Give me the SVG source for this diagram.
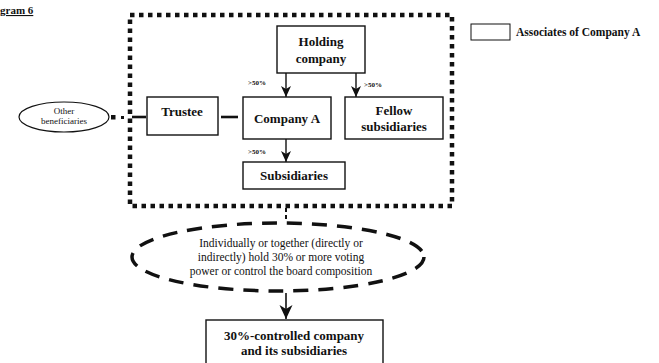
<svg xmlns="http://www.w3.org/2000/svg" width="659" height="363" viewBox="0 0 659 363">
  <defs>
    <style>
      .box{fill:#fff;stroke:#111;stroke-width:1.4}
      .lbl{font-family:"Liberation Serif","Times New Roman",serif;font-weight:bold;font-size:13px;fill:#111;text-anchor:middle}
      .pct{font-family:"Liberation Serif","Times New Roman",serif;font-weight:bold;font-size:7px;fill:#111}
      .note{font-family:"Liberation Serif","Times New Roman",serif;font-size:11.5px;fill:#111;text-anchor:middle}
      .small{font-family:"Liberation Serif","Times New Roman",serif;font-size:9px;fill:#111;text-anchor:middle}
      .ln{stroke:#111;stroke-width:1.4;fill:none}
      .thick{stroke:#111;stroke-width:2.6;fill:none}
    </style>
    <marker id="ah" markerUnits="userSpaceOnUse" markerWidth="12" markerHeight="12" refX="11" refY="5" orient="auto">
      <path d="M0,0 L11,5 L0,10 L3,5 Z" fill="#111"/>
    </marker>
    <marker id="ahBig" markerUnits="userSpaceOnUse" markerWidth="16" markerHeight="16" refX="14" refY="6.5" orient="auto">
      <path d="M0,0 L14,6.5 L0,13 L4,6.5 Z" fill="#111"/>
    </marker>
  </defs>

  <!-- heading fragment -->
  <text x="0" y="14" font-family="Liberation Serif, serif" font-weight="bold" font-size="11" fill="#111" text-decoration="underline">gram 6</text>

  <!-- group boundary (associates of Company A) -->
  <rect x="130" y="15" width="322" height="191" fill="none" stroke="#111" stroke-width="4.5" stroke-dasharray="4.5 4.5"/>

  <!-- connectors -->
  <g id="connectors">
    <line class="ln" x1="286" y1="73" x2="286" y2="97" marker-end="url(#ah)"/>
    <line class="ln" x1="356" y1="73" x2="356" y2="97" marker-end="url(#ah)"/>
    <line class="ln" x1="286" y1="139" x2="286" y2="162" marker-end="url(#ah)"/>
    <line class="thick" x1="221" y1="117" x2="238" y2="117"/>
    <line class="thick" x1="132" y1="117" x2="146" y2="117"/>
    <rect x="111" y="115" width="4.5" height="4.5" fill="#111"/>
    <rect x="121" y="116" width="3" height="3" fill="#111"/>
    <line x1="286" y1="208" x2="286" y2="222" stroke="#111" stroke-width="2" stroke-dasharray="4 3"/>
    <line x1="286" y1="293" x2="286" y2="319" stroke="#111" stroke-width="1.6" marker-end="url(#ahBig)"/>
    <text class="pct" x="248" y="85">&gt;50%</text>
    <text class="pct" x="364" y="87">&gt;50%</text>
    <text class="pct" x="248" y="154">&gt;50%</text>
  </g>

  <g id="holding">
    <rect class="box" x="277" y="26" width="88" height="47"/>
    <text class="lbl" x="321" y="46">Holding</text>
    <text class="lbl" x="321" y="63">company</text>
  </g>

  <g id="companyA">
    <rect class="box" x="243" y="97" width="88" height="42"/>
    <text class="lbl" x="287" y="123">Company A</text>
  </g>

  <g id="trustee">
    <rect class="box" x="147" y="97" width="71" height="38"/>
    <text class="lbl" x="182" y="116">Trustee</text>
  </g>

  <g id="fellow">
    <rect class="box" x="345" y="97" width="98" height="42"/>
    <text class="lbl" x="394" y="115">Fellow</text>
    <text class="lbl" x="394" y="131">subsidiaries</text>
  </g>

  <g id="subsidiaries">
    <rect class="box" x="243" y="162" width="102" height="27"/>
    <text class="lbl" x="294" y="180">Subsidiaries</text>
  </g>

  <g id="others">
    <ellipse cx="64" cy="117" rx="45" ry="15" fill="#fff" stroke="#111" stroke-width="1.2"/>
    <text class="small" x="64" y="114">Other</text>
    <text class="small" x="64" y="124">beneficiaries</text>
  </g>

  <g id="condition">
    <ellipse cx="278" cy="257" rx="146" ry="34" fill="none" stroke="#111" stroke-width="3.5" stroke-dasharray="15 10"/>
    <text class="note" x="281" y="247">Individually or together (directly or</text>
    <text class="note" x="281" y="261">indirectly) hold 30% or more voting</text>
    <text class="note" x="281" y="275">power or control the board composition</text>
  </g>

  <g id="controlled">
    <rect class="box" x="206" y="320" width="177" height="50"/>
    <text class="lbl" x="294" y="340" font-size="12">30%-controlled company</text>
    <text class="lbl" x="294" y="355" font-size="12">and its subsidiaries</text>
  </g>

  <g id="legend">
    <rect x="471" y="24" width="39" height="16" fill="#fff" stroke="#111" stroke-width="1"/>
    <text x="516" y="36" font-family="Liberation Serif, serif" font-weight="bold" font-size="11.5" fill="#111">Associates of Company A</text>
  </g>
</svg>
